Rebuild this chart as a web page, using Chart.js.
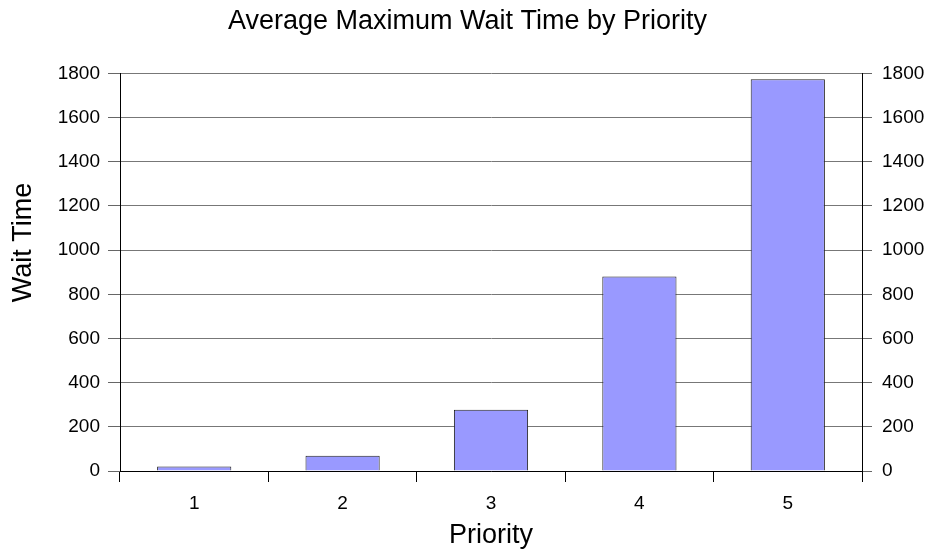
<!DOCTYPE html>
<html>
<head>
<meta charset="utf-8">
<script src="https://cdn.jsdelivr.net/npm/chart.js@4"></script>
<style>
  body { margin: 0; background: #fff; }
</style>
</head>
<body>
<canvas id="waitChart" width="935" height="555"></canvas>
<script>
// datos
const priorities = ["1", "2", "3", "4", "5"];
const waitTimes = [20, 69, 277, 880, 1774];
const yTicks = [0, 200, 400, 600, 800, 1000, 1200, 1400, 1600, 1800];
const yTitle = "Wait Time";

const fontFamily = "'Liberation Sans', Arial, sans-serif";

// El título del eje Y no está centrado en el original: se dibuja a mano
const yTitlePlugin = {
    id: "yTitlePlugin",
    afterDraw(chart) {
        const c = chart.ctx;
        const area = chart.chartArea;
        c.save();
        c.translate(24, area.top + (area.bottom - area.top) * 0.425);
        c.rotate(-Math.PI / 2);
        c.font = "27px " + fontFamily;
        c.fillStyle = "#000";
        c.textAlign = "center";
        c.textBaseline = "middle";
        c.fillText(yTitle, 0, 0);
        c.restore();
    }
};

function setupChart() {
    const ctx = document.getElementById("waitChart").getContext("2d");
    new Chart(ctx, {
        type: "bar",
        data: {
            labels: priorities,
            datasets: [{
                data: waitTimes,
                backgroundColor: "#9999ff",
                borderColor: "#222222",
                borderWidth: 1,
                barPercentage: 0.5,
                categoryPercentage: 1
            }]
        },
        options: {
            responsive: false,
            animation: false,
            layout: { padding: 0 },
            plugins: {
                legend: { display: false },
                tooltip: { enabled: false },
                title: {
                    display: true,
                    text: "Average Maximum Wait Time by Priority",
                    color: "#000",
                    font: { family: fontFamily, size: 27, weight: "normal" },
                    padding: { top: 5, bottom: 36 }
                }
            },
            scales: {
                x: {
                    afterFit: scale => { scale.height = 84; },
                    grid: { offset: true, drawOnChartArea: false, tickLength: 11, color: "#000" },
                    border: { color: "#000" },
                    ticks: { color: "#000", padding: 10, font: { family: fontFamily, size: 19 } },
                    title: {
                        display: true, text: "Priority", color: "#000",
                        font: { family: fontFamily, size: 27 },
                        padding: { top: 3, bottom: 3 }
                    }
                },
                y: {
                    position: "left",
                    min: 0, max: 1800,
                    afterFit: scale => { scale.width = 120; },
                    afterBuildTicks: scale => { scale.ticks = yTicks.map(v => ({ value: v })); },
                    grid: { color: "#777", tickColor: "#666", tickLength: 12 },
                    border: { color: "#000" },
                    ticks: {
                        color: "#000", padding: 8,
                        font: { family: fontFamily, size: 19 },
                        callback: v => String(v)
                    }
                },
                y2: {
                    position: "right",
                    min: 0, max: 1800,
                    afterFit: scale => { scale.width = 73; },
                    afterBuildTicks: scale => { scale.ticks = yTicks.map(v => ({ value: v })); },
                    grid: { drawOnChartArea: false, tickColor: "#666", tickLength: 10 },
                    border: { color: "#000" },
                    ticks: {
                        color: "#000", padding: 10,
                        font: { family: fontFamily, size: 19 },
                        callback: v => String(v)
                    }
                }
            }
        },
        plugins: [yTitlePlugin]
    });
}

document.addEventListener("DOMContentLoaded", setupChart);
</script>
</body>
</html>
